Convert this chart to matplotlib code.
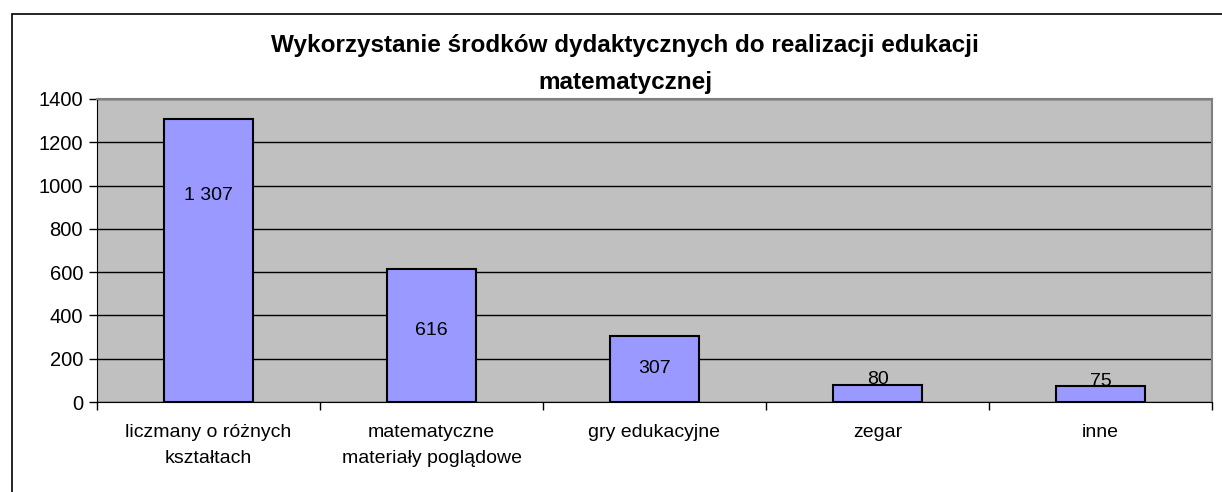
import matplotlib.pyplot as plt
import numpy as np
from matplotlib.patches import Rectangle

# chart data
categories = ["liczmany o różnych\nkształtach", "matematyczne\nmateriały poglądowe",
              "gry edukacyjne", "zegar", "inne"]
values = [1307, 616, 307, 80, 75]
value_labels = ["1 307", "616", "307", "80", "75"]
# where the value label sits, as a fraction of bar height (None = on top of the bar)
label_frac = [0.73, 0.54, 0.51, None, None]

title = "Wykorzystanie środków dydaktycznych do realizacji edukacji\nmatematycznej"

plt.rcParams["font.family"] = ["Liberation Sans", "DejaVu Sans"]

fig = plt.figure(figsize=(12.22, 4.92), dpi=100)
fig.patch.set_facecolor("white")

# outer chart frame (runs off the right and bottom edge like the source)
fig.patches.append(Rectangle((12 / 1222, -0.1), 1.2, 1 - 14 / 492 + 0.1,
                             transform=fig.transFigure, fill=False,
                             edgecolor="black", linewidth=1.2, zorder=0))

ax = fig.add_axes([97 / 1222, 1 - 402 / 492, (1212 - 97) / 1222, (402 - 99) / 492])
ax.set_facecolor("#C0C0C0")

x = np.arange(len(categories))
ax.bar(x, values, width=0.40, color="#9999FF", edgecolor="black", linewidth=1.5, zorder=3)

for xi, v, lab, frac in zip(x, values, value_labels, label_frac):
    if frac is None:
        ax.text(xi, v + 1, lab, ha="center", va="baseline", fontsize=14, zorder=4)
    else:
        ax.text(xi, v * frac, lab, ha="center", va="center", fontsize=14, zorder=4)

ax.set_xlim(-0.5, len(categories) - 0.5)
ax.set_ylim(0, 1400)
ax.set_yticks(range(0, 1401, 200))
ax.yaxis.grid(True, color="black", linewidth=1.0, zorder=1)
ax.set_axisbelow(True)

ax.set_xticks(x)
ax.set_xticklabels(categories, fontsize=14, linespacing=1.65)
ax.set_xticks(np.arange(-0.5, len(categories), 1), minor=True)
ax.tick_params(axis="x", which="major", length=0, pad=16)
ax.tick_params(axis="x", which="minor", length=6, width=1, direction="out")
ax.tick_params(axis="y", length=6, width=1, direction="out", labelsize=14.5, pad=4)

for side in ("top", "right"):
    ax.spines[side].set_color("#808080")
    ax.spines[side].set_linewidth(1.5)
ax.spines["left"].set_color("black")
ax.spines["bottom"].set_color("black")

fig.text(625 / 1222, 1 - 64 / 492, title, ha="center", va="center",
         fontsize=17.5, fontweight="bold", linespacing=1.75)

fig.savefig("out.png", dpi=100)
